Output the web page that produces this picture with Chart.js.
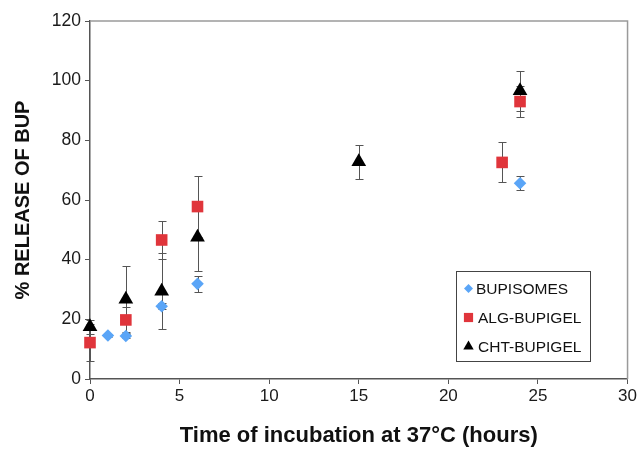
<!DOCTYPE html>
<html>
<head>
<meta charset="utf-8">
<script src="https://cdn.jsdelivr.net/npm/chart.js@4/dist/chart.umd.min.js"></script>
<style>
html,body{margin:0;padding:0;background:#fff;}
#wrap{width:639px;height:450px;position:relative;}
</style>
</head>
<body>
<div id="wrap"><canvas id="c" width="639" height="450"></canvas></div>
<script>
// ---- data ----
const seriesNames = ["BUPISOMES", "ALG-BUPIGEL", "CHT-BUPIGEL"];
const bupTimes  = [1, 2, 4, 6, 24];
const bupValues = [14.6, 14.4, 24.4, 31.9, 65.6];
const bupErr    = [0.5, 0.8, 1.0, 2.7, 2.4];
const algTimes  = [0, 2, 4, 6, 23, 24];
const algValues = [12.2, 19.8, 46.6, 57.8, 72.6, 93.0];
const algErr    = [6.1, 4.2, 6.4, 10.2, 6.7, 5.3];
const chtTimes  = [0, 2, 4, 6, 15, 24];
const chtValues = [17.5, 26.7, 29.4, 47.5, 72.8, 96.6];
const chtErr    = [2.3, 11.3, 12.7, 11.2, 5.8, 6.8];
const xTicks = [0, 5, 10, 15, 20, 25, 30];
const yTicks = [0, 20, 40, 60, 80, 100, 120];
const xTitle = "Time of incubation at 37°C (hours)";
const yTitle = "% RELEASE OF BUP";

const FONT = "'Liberation Sans', Arial, sans-serif";
const pts = (t, v) => t.map((x, i) => ({x: x, y: v[i]}));

const errorBars = {
  id: 'errorBars',
  beforeDatasetsDraw(chart) {
    const ctx = chart.ctx, xs = chart.scales.x, ys = chart.scales.y;
    const a = chart.chartArea;
    ctx.save();
    // frame (top / right)
    ctx.strokeStyle = '#9a9a9a';
    ctx.lineWidth = 1.5;
    ctx.beginPath();
    ctx.moveTo(a.left, a.top); ctx.lineTo(a.right, a.top); ctx.lineTo(a.right, a.bottom);
    ctx.stroke();
    ctx.strokeStyle = '#555';
    ctx.lineWidth = 1;
    chart.data.datasets.forEach(ds => {
      ds.data.forEach((p, i) => {
        const e = ds.errors[i];
        if (!e) return;
        const x = Math.round(xs.getPixelForValue(p.x)) + 0.5;
        const y1 = Math.round(ys.getPixelForValue(p.y + e)) + 0.5;
        const y2 = Math.round(ys.getPixelForValue(p.y - e)) + 0.5;
        ctx.beginPath();
        ctx.moveTo(x, y1); ctx.lineTo(x, y2);
        ctx.moveTo(x - 4, y1); ctx.lineTo(x + 4, y1);
        ctx.moveTo(x - 4, y2); ctx.lineTo(x + 4, y2);
        ctx.stroke();
      });
    });
    ctx.restore();
  },
  afterDatasetsDraw(chart) {
    const ctx = chart.ctx, a = chart.chartArea;
    const bx = a.left + 366.5, by = a.top + 250.5, bw = 134, bh = 90;
    ctx.save();
    ctx.fillStyle = '#fff';
    ctx.fillRect(bx, by, bw, bh);
    ctx.strokeStyle = '#444';
    ctx.lineWidth = 1;
    ctx.strokeRect(bx, by, bw, bh);
    const sizes = [4.5, 6.5, 6];
    chart.data.datasets.forEach((ds, i) => {
      const cy = by + 17 + i * 29;
      const cx = bx + 12;
      ctx.fillStyle = ds.backgroundColor;
      ctx.strokeStyle = ds.backgroundColor;
      Chart.helpers.drawPoint(ctx, {pointStyle: ds.pointStyle, radius: sizes[i], rotation: 0, borderWidth: 0}, cx, cy);
      ctx.fillStyle = '#111';
      ctx.font = '15.5px ' + FONT;
      ctx.textBaseline = 'middle';
      ctx.textAlign = 'left';
      ctx.fillText(ds.label, bx + 19.5 + (i === 0 ? 0 : 2), cy + 1);
    });
    ctx.restore();
  }
};

new Chart(document.getElementById('c'), {
  type: 'scatter',
  data: {
    datasets: [
      {label: seriesNames[0], data: pts(bupTimes, bupValues), errors: bupErr, clip: false,
       pointStyle: 'rectRot', radius: 6.3, hoverRadius: 6.3, backgroundColor: '#5aa5f7', borderColor: '#5aa5f7', borderWidth: 0},
      {label: seriesNames[1], data: pts(algTimes, algValues), errors: algErr, clip: false,
       pointStyle: 'rect', radius: 8.2, hoverRadius: 8.2, backgroundColor: '#e0353b', borderColor: '#e0353b', borderWidth: 0},
      {label: seriesNames[2], data: pts(chtTimes, chtValues), errors: chtErr, clip: false,
       pointStyle: 'triangle', radius: 8.5, hoverRadius: 8.5, backgroundColor: '#000', borderColor: '#000', borderWidth: 0}
    ]
  },
  options: {
    responsive: false,
    animation: false,
    events: [],
    layout: {padding: {top: 21, right: 11, left: 0, bottom: 0}},
    plugins: {legend: {display: false}, tooltip: {enabled: false}},
    scales: {
      x: {
        type: 'linear', min: 0, max: 30,
        afterBuildTicks: s => { s.ticks = xTicks.map(v => ({value: v})); },
        afterFit: s => { s.height = 71; },
        ticks: {font: {family: FONT, size: 17}, color: '#1a1a1a', padding: 2, maxRotation: 0},
        grid: {drawOnChartArea: false, tickLength: 5, color: '#555'},
        border: {color: '#555', width: 1.5},
        title: {display: true, text: xTitle, font: {family: FONT, size: 22, weight: 'bold'}, color: '#111', padding: {top: 0, bottom: 1}}
      },
      y: {
        type: 'linear', min: 0, max: 120,
        afterBuildTicks: s => { s.ticks = yTicks.map(v => ({value: v})); },
        afterFit: s => { s.width = 90; },
        ticks: {font: {family: FONT, size: 17.5}, color: '#1a1a1a', padding: 4},
        grid: {drawOnChartArea: false, tickLength: 5, color: '#555'},
        border: {color: '#555', width: 1.5},
        title: {display: true, text: yTitle, font: {family: FONT, size: 20, weight: 'bold'}, color: '#111', padding: {top: 11, bottom: 0}}
      }
    }
  },
  plugins: [errorBars]
});
</script>
</body>
</html>
